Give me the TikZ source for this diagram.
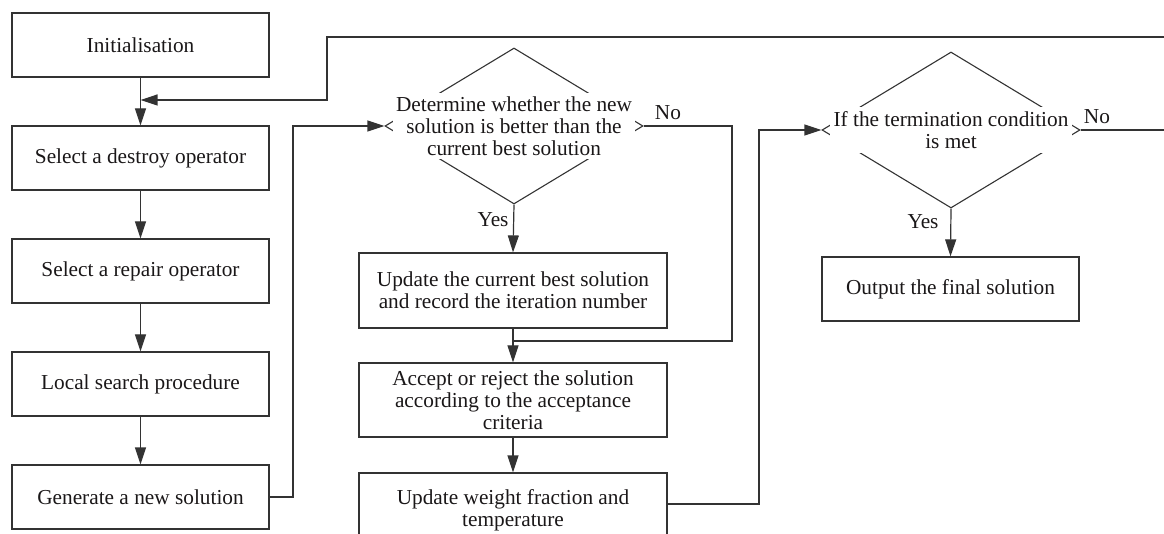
\documentclass[tikz,border=0pt]{standalone}
\usepackage{fontspec}
\setmainfont{Liberation Serif}
\usetikzlibrary{arrows.meta,shapes.geometric,calc}
\definecolor{ln}{HTML}{333333}
\definecolor{tx}{HTML}{1A1718}
\begin{document}
\begin{tikzpicture}[x=1pt,y=-1pt,
  font=\fontsize{21.3}{22}\selectfont, text=tx,
  box/.style={draw=ln, line width=1.2pt, rectangle, align=center, inner sep=0pt},
  lbox/.style={box, minimum width=257pt, minimum height=64pt},
  mbox/.style={box, minimum width=308pt, minimum height=75pt},
  dia/.style={draw=ln, line width=1.1pt, diamond, minimum width=258pt, minimum height=156pt, inner sep=0pt},
  dtext/.style={fill=white, align=center, inner xsep=0pt, inner ysep=4pt, minimum width=242pt},
  lab/.style={inner sep=0pt},
  arr/.style={draw=ln, line width=1.2pt, -{Triangle[length=17pt,width=11pt]}},
  ln/.style={draw=ln, line width=1.2pt}]
\useasboundingbox (0,0) rectangle (1164,534);
% left column
\node[lbox] (init) at (140.5,45) {Initialisation};
\node[lbox] (destroy) at (140.5,158) {Select a destroy operator};
\node[lbox] (repair) at (140.5,271) {Select a repair operator};
\node[lbox] (local) at (140.5,384) {Local search procedure};
\node[lbox] (gen) at (140.5,497) {Generate a new solution};
% middle column
\node[dia] (d1) at (514,126) {};
\node[dtext] (d1t) at (514,126) {Determine whether the new\\solution is better than the\\current best solution};
\node[mbox] (upd) at (513,290.5) {Update the current best solution\\and record the iteration number};
\node[mbox, minimum height=74pt] (acc) at (513,400) {Accept or reject the solution\\according to the acceptance\\criteria};
\node[mbox, minimum height=74pt] (wgt) at (513,510) {Update weight fraction and\\temperature};
% right column
\node[dia] (d2) at (951,130) {};
\node[dtext] (d2t) at (951,130) {If the termination condition\\is met};
\node[lbox] (out) at (950.5,289) {Output the final solution};
% helper coordinates
\coordinate (m1) at (140.5,100);
\coordinate (m2) at (513,341);
% connectors
\draw[arr] (init) -- (destroy);
\draw[arr] (destroy) -- (repair);
\draw[arr] (repair) -- (local);
\draw[arr] (local) -- (gen);
\draw[arr] (gen.east) -- (293,497) -- (293,126) -- (d1.west);
\draw[arr] (d1.south) -- (upd.north);
\draw[arr] (upd.south) -- (acc.north);
\draw[ln] (d1.east) -- (732,126) -- (732,341) -- (m2);
\draw[arr] (acc.south) -- (wgt.north);
\draw[arr] ([yshift=6pt]wgt.east) -- (759,504) -- (759,130) -- (d2.west);
\draw[arr] (d2.south) -- (out.north);
\draw[arr] (d2.east) -- (1175,130) -- (1175,37) -- (327,37) -- (327,100) -- (m1);
% labels
\node[lab] (no1) at (668,113) {No};
\node[lab] (yes1) at (493,220) {Yes};
\node[lab] (no2) at (1097,117) {No};
\node[lab] (yes2) at (923,222) {Yes};
\end{tikzpicture}
\end{document}
